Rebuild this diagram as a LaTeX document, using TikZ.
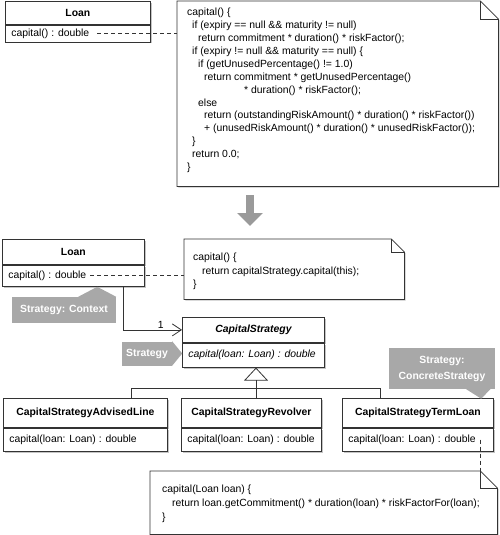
\documentclass[tikz,border=0pt]{standalone}
\usepackage{fontspec}
\setmainfont{Liberation Sans}
\usetikzlibrary{calc,arrows.meta,positioning,shadows}
\definecolor{linec}{HTML}{333333}
\definecolor{tagc}{HTML}{A8A8A8}
\definecolor{arrc}{HTML}{9A9A9A}
\definecolor{shadc}{HTML}{C4C4C4}
\newcommand{\cfont}{\fontsize{10.4}{12.9}\selectfont}
\tikzset{
  part/.style={draw=linec,line width=0.8pt,fill=white,anchor=north west,inner xsep=6pt,inner ysep=0pt,
    drop shadow={shadow xshift=1.3pt,shadow yshift=-1.3pt,fill=shadc,opacity=1}},
  head/.style={part,font=\cfont\bfseries},
  meth/.style={part,font=\cfont},
  notebox/.style={anchor=north west,inner sep=0pt},
  code/.style={anchor=north west,inner sep=0pt,align=left,font=\cfont},
  tag/.style={fill=tagc,text=white,font=\cfont\bfseries,inner sep=0pt,align=center},
  ln/.style={draw=linec,line width=0.8pt},
  tie/.style={draw=linec,line width=0.7pt,dash pattern=on 4pt off 3pt},
  assoc/.style={ln,-{Straight Barb[length=9pt,width=12pt]}},
  inh/.style={ln,-{Triangle[open,length=13pt,width=24pt]}},
  bigar/.style={draw=arrc,line width=8pt,-{Triangle[length=13pt,width=25pt]}}
}
% class box: name, x, y, width, title height, method height, title, method
\newcommand{\umlclass}[8]{%
  \node[head,minimum width=#4pt,minimum height=#5pt] (#1) at (#2,#3) {#7};
  \node[meth,minimum width=#4pt,minimum height=#6pt] (#1m) at (#1.south west) {\makebox[\dimexpr#4pt-12pt\relax][l]{#8}};}
% note frame with folded corner: name, ear size
\newcommand{\notefr}[2]{%
  \fill[shadc] ($(#1.north west)+(1.3,1.3)$) -- ($(#1.north east)+(1.3-#2,1.3)$) -- ($(#1.north east)+(1.3,#2+1.3)$) -- ($(#1.south east)+(1.3,1.3)$) -- ($(#1.south west)+(1.3,1.3)$) -- cycle;
  \draw[ln,fill=white] (#1.north west) -- ($(#1.north east)+(-#2,0)$) -- ($(#1.north east)+(0,#2)$) -- (#1.south east) -- (#1.south west) -- cycle;
  \draw[ln] ($(#1.north east)+(-#2,0)$) |- ($(#1.north east)+(0,#2)$);}

\begin{document}
\begin{tikzpicture}[x=1pt,y=-1pt]
\useasboundingbox (0,0) rectangle (500,535);
% before
\umlclass{loanA}{5}{1.5}{145}{22.5}{17}{Loan}{capital() : double}
\node[notebox,minimum width=321pt,minimum height=185pt] (noteA) at (177,1) {};
\notefr{noteA}{18}
\node[code] (codeA) at (187,8) {capital() \{\\
\hspace*{5pt}if (expiry == null \&\& maturity != null)\\
\hspace*{11pt}return commitment * duration() * riskFactor();\\
\hspace*{5pt}if (expiry != null \&\& maturity == null) \{\\
\hspace*{11pt}if (getUnusedPercentage() != 1.0)\\
\hspace*{17pt}return commitment * getUnusedPercentage()\\
\hspace*{57pt}* duration() * riskFactor();\\
\hspace*{11pt}else\\
\hspace*{17pt}return (outstandingRiskAmount() * duration() * riskFactor())\\
\hspace*{17pt}+ (unusedRiskAmount() * duration() * unusedRiskFactor());\\
\hspace*{5pt}\}\\
\hspace*{5pt}return 0.0;\\
\}};
\coordinate (tieA) at (97,0);
\draw[tie] (loanAm.center -| tieA) -- (loanAm.center -| noteA.west);

% refactoring step
\coordinate (arrS) at (250,195);
\coordinate (arrE) at (250,226);
\draw[bigar] (arrS) -- (arrE);

% after
\umlclass{loanB}{2}{239}{142}{25}{21}{Loan}{capital() : double}
\node[notebox,minimum width=220pt,minimum height=60pt] (noteB) at (184,239) {};
\notefr{noteB}{13}
\node[code,font=\fontsize{10.4}{13.5}\selectfont] (codeB) at (193,253) {capital() \{\\
\hspace*{9pt}return capitalStrategy.capital(this);\\
\}};
\coordinate (tieB) at (90,0);
\draw[tie] (loanBm.center -| tieB) -- (loanBm.center -| noteB.west);

\node[tag,minimum width=104pt,minimum height=26pt] (ctxTag) at (64,310) {Strategy: Context};
\fill[tagc] ($(ctxTag.north east)+(-38,0)$) -- ($(ctxTag.north east)+(-19,-10)$) -- (ctxTag.north east) -- cycle;

\umlclass{strat}{182}{317}{142}{25}{24}{\itshape CapitalStrategy}{\itshape capital(loan: Loan) : double}
\node[tag,minimum width=50pt,minimum height=24pt] (stratTag) at (147,353.5) {Strategy};
\fill[tagc] (stratTag.north east) -- ($(stratTag.east)+(10,0)$) -- (stratTag.south east) -- cycle;

\coordinate (ascX) at (123,0);
\draw[assoc] (loanBm.south -| ascX) |- node[above,pos=0.82,inner sep=1.5pt,font=\cfont] (mult) {1} (strat.west);

\umlclass{adv}{3}{398}{164}{29}{23}{CapitalStrategyAdvisedLine}{capital(loan: Loan) : double}
\umlclass{rev}{181}{398}{140}{29}{23}{CapitalStrategyRevolver}{capital(loan: Loan) : double}
\umlclass{term}{342}{398}{151}{29}{23}{CapitalStrategyTermLoan}{capital(loan: Loan) : double}

\coordinate (hub) at (256,388);
\coordinate (legA) at (131,388);
\coordinate (legC) at (380,388);
\draw[ln] (adv.north -| legA) -- (legA) -- (legC) -- (term.north -| legC);
\draw[inh] (rev.north -| hub) -- (stratm.south -| hub);

\node[tag,minimum width=106pt,minimum height=41pt,font=\fontsize{10.4}{16}\selectfont\bfseries] (conTag) at (442,368.5) {Strategy:\\ConcreteStrategy};
\fill[tagc] ($(conTag.south east)+(-29,0)$) -- ($(conTag.south east)+(-14,9.5)$) -- ($(conTag.south east)+(0,-5)$) -- cycle;

\node[notebox,minimum width=347pt,minimum height=63pt] (noteC) at (150,471) {};
\notefr{noteC}{17}
\node[code,font=\fontsize{10.4}{14}\selectfont] (codeC) at (162,485) {capital(Loan loan) \{\\
\hspace*{10pt}return loan.getCommitment() * duration(loan) * riskFactorFor(loan);\\
\}};
\coordinate (tieC) at (480,0);
\draw[tie] (termm.center -| tieC) -- (noteC.north -| tieC);
\end{tikzpicture}
\end{document}
